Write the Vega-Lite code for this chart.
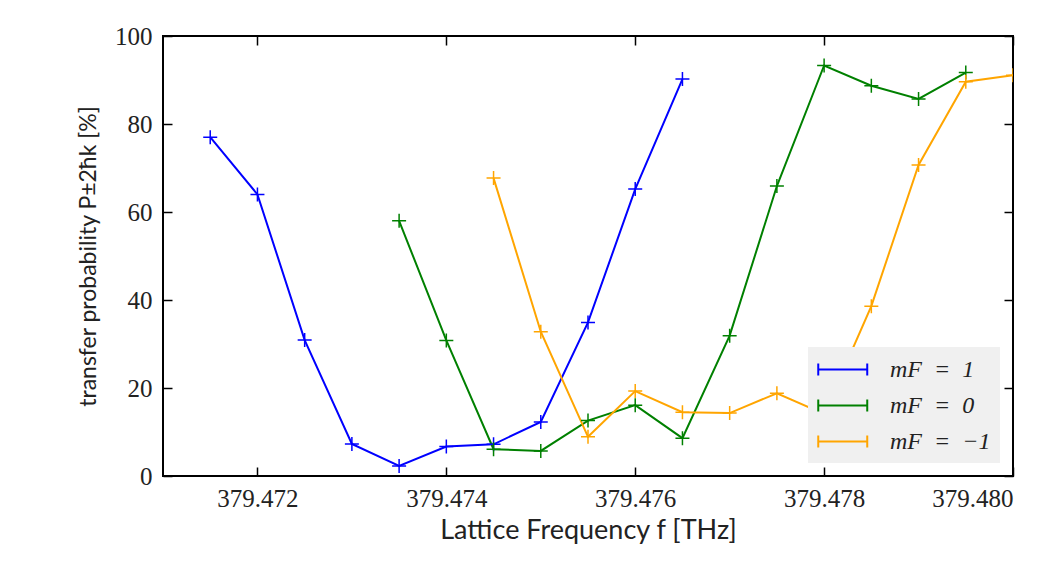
{
  "$schema": "https://vega.github.io/schema/vega-lite/v6.json",
  "width": 850,
  "height": 440,
  "autosize": {"type": "none"},
  "padding": {"left": 163, "top": 36, "right": 51, "bottom": 91},
  "background": "white",
  "config": {
    "view": {"stroke": "#000000", "strokeWidth": 2},
    "axis": {
      "grid": false,
      "domain": false,
      "tickSize": -9,
      "tickWidth": 1.5,
      "tickColor": "#000000",
      "labelColor": "#222222",
      "titleColor": "#222222",
      "labelFont": "Liberation Serif",
      "titleFont": "Lato",
      "titleFontWeight": "normal",
      "titleFontSize": 20
    }
  },
  "data": {
    "values": [
      {"series": "mF = 1", "f": 379.4715, "p": 77.0},
      {"series": "mF = 1", "f": 379.472, "p": 64.0},
      {"series": "mF = 1", "f": 379.4725, "p": 30.9},
      {"series": "mF = 1", "f": 379.473, "p": 7.3},
      {"series": "mF = 1", "f": 379.4735, "p": 2.3},
      {"series": "mF = 1", "f": 379.474, "p": 6.7},
      {"series": "mF = 1", "f": 379.4745, "p": 7.2},
      {"series": "mF = 1", "f": 379.475, "p": 12.3},
      {"series": "mF = 1", "f": 379.4755, "p": 34.9},
      {"series": "mF = 1", "f": 379.476, "p": 65.2},
      {"series": "mF = 1", "f": 379.4765, "p": 90.2},
      {"series": "mF = 0", "f": 379.4735, "p": 58.0},
      {"series": "mF = 0", "f": 379.474, "p": 30.8},
      {"series": "mF = 0", "f": 379.4745, "p": 6.1},
      {"series": "mF = 0", "f": 379.475, "p": 5.7},
      {"series": "mF = 0", "f": 379.4755, "p": 12.6},
      {"series": "mF = 0", "f": 379.476, "p": 16.1},
      {"series": "mF = 0", "f": 379.4765, "p": 8.6},
      {"series": "mF = 0", "f": 379.477, "p": 31.9},
      {"series": "mF = 0", "f": 379.4775, "p": 65.9},
      {"series": "mF = 0", "f": 379.478, "p": 93.3},
      {"series": "mF = 0", "f": 379.4785, "p": 88.7},
      {"series": "mF = 0", "f": 379.479, "p": 85.7},
      {"series": "mF = 0", "f": 379.4795, "p": 91.7},
      {"series": "mF = −1", "f": 379.4745, "p": 67.7},
      {"series": "mF = −1", "f": 379.475, "p": 32.8},
      {"series": "mF = −1", "f": 379.4755, "p": 8.9},
      {"series": "mF = −1", "f": 379.476, "p": 19.3},
      {"series": "mF = −1", "f": 379.4765, "p": 14.5},
      {"series": "mF = −1", "f": 379.477, "p": 14.3},
      {"series": "mF = −1", "f": 379.4775, "p": 18.8},
      {"series": "mF = −1", "f": 379.478, "p": 14.1},
      {"series": "mF = −1", "f": 379.4785, "p": 38.6},
      {"series": "mF = −1", "f": 379.479, "p": 70.7},
      {"series": "mF = −1", "f": 379.4795, "p": 89.6},
      {"series": "mF = −1", "f": 379.48, "p": 91.1}
    ]
  },
  "layer": [
    {
      "mark": {"type": "line", "strokeWidth": 2, "clip": true},
      "encoding": {
        "x": {
          "field": "f", "type": "quantitative",
          "scale": {"domain": [379.471, 379.48], "zero": false, "nice": false},
          "axis": {
            "orient": "bottom",
            "values": [379.472, 379.474, 379.476, 379.478, 379.48],
            "format": ".3f",
            "labelFontSize": 25,
            "labelPadding": 19,
            "labelBaseline": "top",
            "title": "Lattice Frequency f [THz]",
            "titleFontSize": 27,
            "titlePadding": 6
          }
        },
        "y": {
          "field": "p", "type": "quantitative",
          "scale": {"domain": [0, 100], "nice": false},
          "axis": {
            "orient": "left",
            "values": [0, 20, 40, 60, 80, 100],
            "labelFontSize": 25,
            "labelPadding": 20,
            "title": "transfer probability P±2ħk [%]",
            "titleFontSize": 23,
            "titlePadding": 14
          }
        },
        "color": {
          "field": "series", "type": "nominal",
          "sort": ["mF = 1", "mF = 0", "mF = −1"],
          "scale": {"domain": ["mF = 1", "mF = 0", "mF = −1"], "range": ["#0000ff", "#008000", "#ffa500"]},
          "legend": {
            "orient": "bottom-right",
            "offset": 13,
            "title": null,
            "fillColor": "#f0f0f0",
            "padding": 9,
            "symbolType": "M-1,0H3M-1,-0.5V0.5M3,-0.5V0.5",
            "symbolSize": 600,
            "symbolStrokeWidth": 2,
            "labelFont": "Liberation Serif",
            "labelFontSize": 24,
            "labelFontStyle": "italic",
            "labelOffset": 46,
            "labelColor": "#222222",
            "labelExpr": "replace(datum.label, ' = ', '\u00a0 = \u00a0')",
            "rowPadding": 10
          }
        }
      }
    },
    {
      "mark": {"type": "point", "shape": "M-1,0H1M0,-1V1", "filled": false, "size": 196, "strokeWidth": 1.5, "opacity": 1, "clip": true},
      "encoding": {
        "x": {
          "field": "f", "type": "quantitative",
          "axis": {"orient": "top", "values": [379.472, 379.474, 379.476, 379.478, 379.48], "labels": false, "title": null}
        },
        "y": {
          "field": "p", "type": "quantitative",
          "axis": {"orient": "right", "values": [0, 20, 40, 60, 80, 100], "labels": false, "title": null}
        },
        "color": {"field": "series", "type": "nominal", "legend": null}
      }
    }
  ],
  "resolve": {"axis": {"x": "independent", "y": "independent"}}
}
